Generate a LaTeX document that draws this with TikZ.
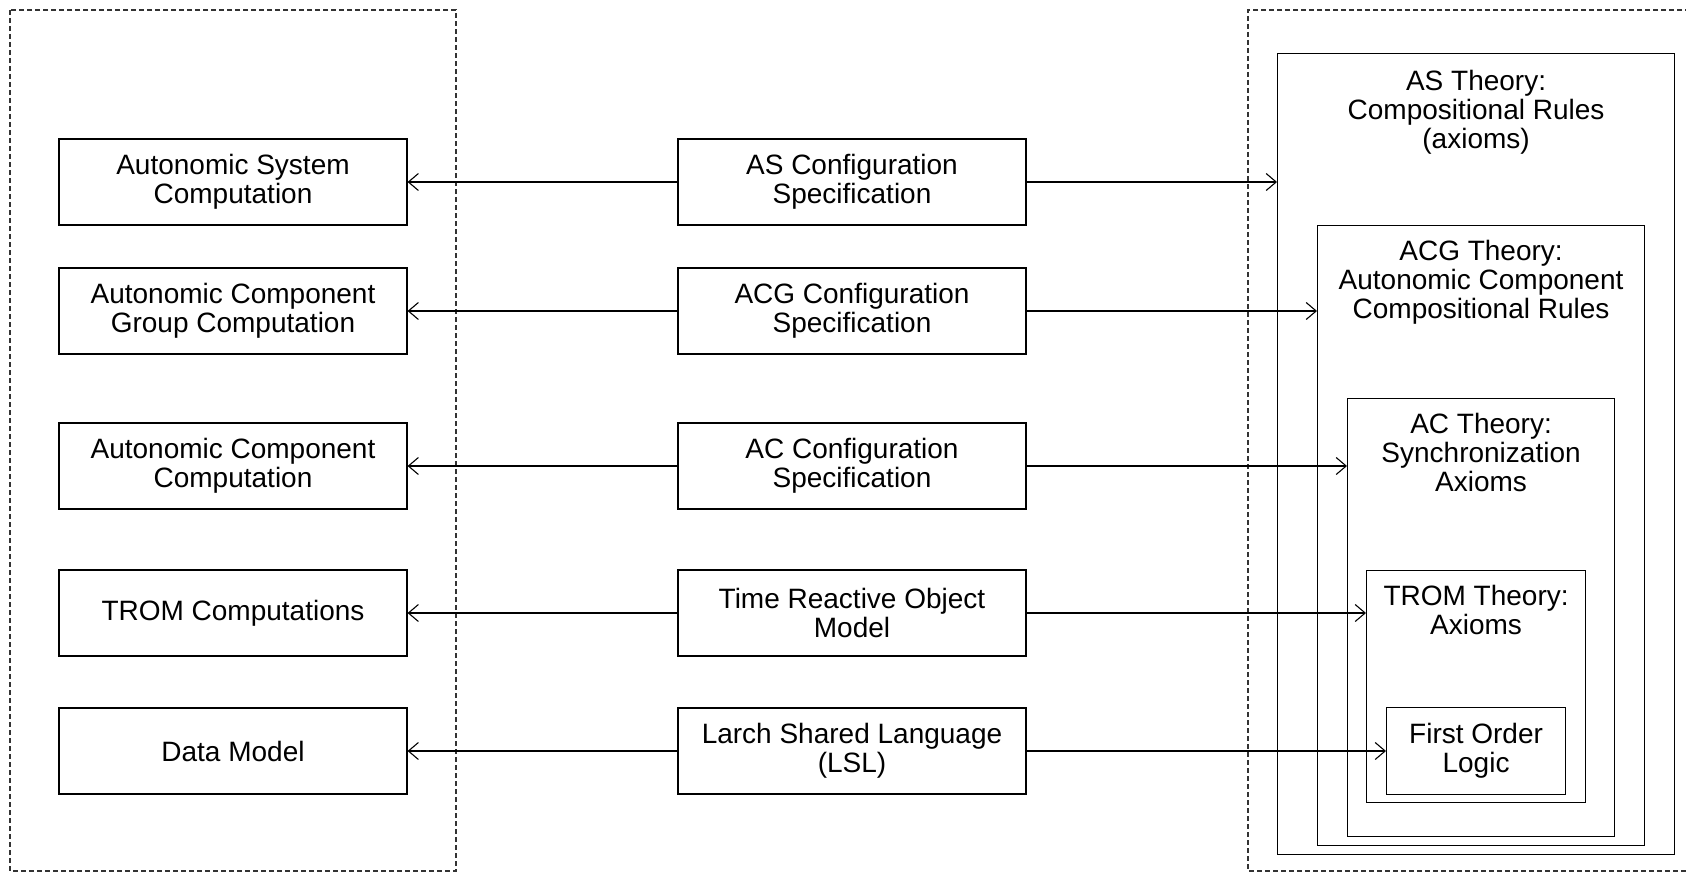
\documentclass[tikz,border=0pt]{standalone}
\usepackage{fontspec}
\setmainfont{Liberation Sans}
\usetikzlibrary{arrows.meta}

\begin{document}
\begin{tikzpicture}[x=1pt,y=-1pt,
  font=\fontsize{28}{29}\selectfont,
  every node/.style={align=center},
  box/.style={draw, line width=1.1pt, minimum width=348pt, minimum height=86pt, inner sep=0pt},
  frame/.style={draw, line width=1.1pt, inner sep=0pt, anchor=north west},
  title/.style={anchor=north, inner sep=0pt},
  zone/.style={draw=black!80, line width=1.1pt, dash pattern=on 5pt off 3pt},
  link/.style={line width=1.1pt, -{Straight Barb[length=10pt,width=17pt]}}]

\useasboundingbox (0,0) rectangle (1686,872);

% dashed groupings
\draw[zone] (10,10) rectangle (456,871);
\draw[zone] (1690,10) -- (1248,10) -- (1248,871) -- (1690,871);

% computations (left column)
\node[box] (l1) at (233,182) {Autonomic System\\Computation};
\node[box] (l2) at (233,311) {Autonomic Component\\Group Computation};
\node[box] (l3) at (233,466) {Autonomic Component\\Computation};
\node[box] (l4) at (233,613) {TROM Computations};
\node[box] (l5) at (233,751) {Data Model};

% specifications (middle column)
\node[box] (m1) at (852,182) {AS Configuration\\Specification};
\node[box] (m2) at (852,311) {ACG Configuration\\Specification};
\node[box] (m3) at (852,466) {AC Configuration\\Specification};
\node[box] (m4) at (852,613) {Time Reactive Object\\Model};
\node[box] (m5) at (852,751) {Larch Shared Language\\(LSL)};

% nested theories (right)
\node[frame, minimum width=397pt, minimum height=801pt] (as) at (1277,53) {};
\node[frame, minimum width=327pt, minimum height=620pt] (acg) at (1317,225) {};
\node[frame, minimum width=267pt, minimum height=438pt] (ac) at (1347,398) {};
\node[frame, minimum width=219pt, minimum height=232pt] (trom) at (1366,570) {};
\node[frame, minimum width=179pt, minimum height=87pt] (fol) at (1386,707) {First Order\\Logic};

\node[title] (ast) at ([yshift=-17.5pt]as.north) {AS Theory:\\Compositional Rules\\(axioms)};
\node[title] (acgt) at ([yshift=-15.5pt]acg.north) {ACG Theory:\\Autonomic Component\\Compositional Rules};
\node[title] (act) at ([yshift=-15.5pt]ac.north) {AC Theory:\\Synchronization\\Axioms};
\node[title] (tromt) at ([yshift=-15pt]trom.north) {TROM Theory:\\Axioms};

% connectors
\foreach \i in {1,...,5} \draw[link] (m\i) -- (l\i);
\draw[link] (m1.east) -- (m1.east -| as.west);
\draw[link] (m2.east) -- (m2.east -| acg.west);
\draw[link] (m3.east) -- (m3.east -| ac.west);
\draw[link] (m4.east) -- (m4.east -| trom.west);
\draw[link] (m5.east) -- (m5.east -| fol.west);
\end{tikzpicture}
\end{document}
